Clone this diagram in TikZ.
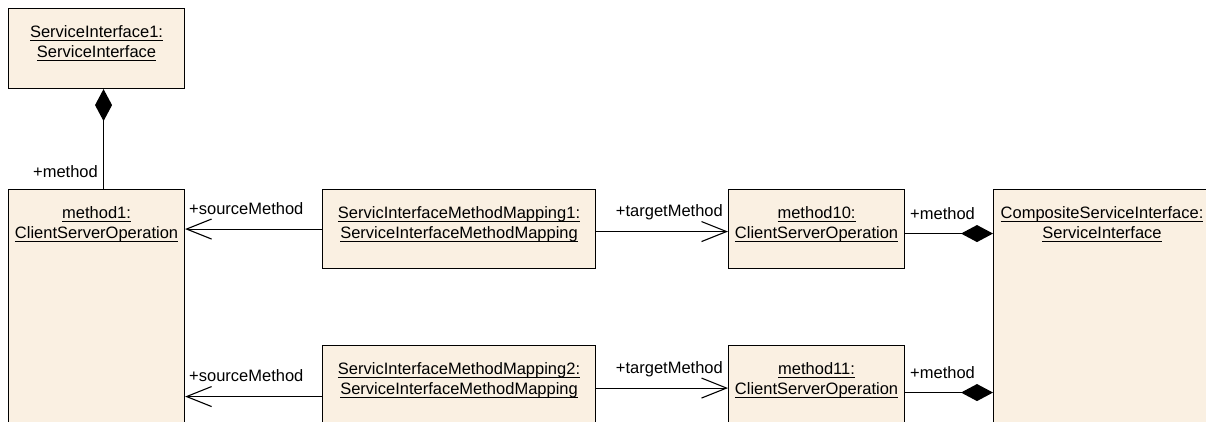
\documentclass[tikz,border=0pt]{standalone}
\usepackage{fontspec}
\setmainfont{Liberation Sans}
\usetikzlibrary{arrows.meta,calc}
\definecolor{boxfill}{RGB}{250,240,226}
\newcommand{\ulx}[1]{\leavevmode\setbox0\hbox{#1}\dp0=0pt\vtop{\box0\kern3pt\hrule height 0.9pt}}
\begin{document}
\begin{tikzpicture}[x=1pt,y=-1pt,
  box/.style={draw=black, fill=boxfill, line width=1.1pt, anchor=north west, inner sep=0pt},
  txt/.style={font=\fontsize{16.5}{20}\selectfont, inner sep=0pt, anchor=base},
  lbl/.style={font=\fontsize{16.5}{20}\selectfont, inner sep=0pt},
  conn/.style={line width=1.1pt},
  comp/.style={conn, {Diamond[length=32pt,width=17pt]}-},
  nav/.style={conn, -{Straight Barb[length=25pt,width=20pt]}}]
\useasboundingbox (0,0) rectangle (1206,421);
\clip (0,0) rectangle (1206,421);
% boxes
\node[box, minimum width=176pt, minimum height=80pt] (si1) at (8,8) {};
\node[box, minimum width=176pt, minimum height=241pt] (m1) at (8,189) {};
\node[box, minimum width=273pt, minimum height=79pt] (map1) at (322,189) {};
\node[box, minimum width=273pt, minimum height=85pt] (map2) at (322,345) {};
\node[box, minimum width=176pt, minimum height=79pt] (m10) at (728,189) {};
\node[box, minimum width=176pt, minimum height=85pt] (m11) at (728,345) {};
\node[box, minimum width=217pt, minimum height=241pt] (csi) at (993,189) {};
% box texts
\node[txt] (si1a) at ($(si1.north)+(0,29)$) {\ulx{ServiceInterface1:}};
\node[txt] (si1b) at ($(si1.north)+(0,49)$) {\ulx{ServiceInterface}};
\node[txt] (m1a) at ($(m1.north)+(0,29)$) {\ulx{method1:}};
\node[txt] (m1b) at ($(m1.north)+(0,49)$) {\ulx{ClientServerOperation}};
\node[txt] (map1a) at ($(map1.north)+(0,29)$) {\ulx{ServicInterfaceMethodMapping1:}};
\node[txt] (map1b) at ($(map1.north)+(0,49)$) {\ulx{ServiceInterfaceMethodMapping}};
\node[txt] (map2a) at ($(map2.north)+(0,29)$) {\ulx{ServicInterfaceMethodMapping2:}};
\node[txt] (map2b) at ($(map2.north)+(0,49)$) {\ulx{ServiceInterfaceMethodMapping}};
\node[txt] (m10a) at ($(m10.north)+(0,29)$) {\ulx{method10:}};
\node[txt] (m10b) at ($(m10.north)+(0,49)$) {\ulx{ClientServerOperation}};
\node[txt] (m11a) at ($(m11.north)+(0,29)$) {\ulx{method11:}};
\node[txt] (m11b) at ($(m11.north)+(0,49)$) {\ulx{ClientServerOperation}};
\node[txt] (csia) at ($(csi.north)+(0,29)$) {\ulx{CompositeServiceInterface:}};
\node[txt] (csib) at ($(csi.north)+(0,49)$) {\ulx{ServiceInterface}};
% connectors
\draw[comp] ([xshift=7pt]si1.south) -- ([xshift=7pt]m1.north);
\draw[nav] (map1.west) -- (map1.west -| m1.east);
\draw[nav] ([yshift=-8.5pt]map2.west) -- ([yshift=-8.5pt]map2.west -| m1.east);
\draw[nav] ([yshift=-2.5pt]map1.east) -- ([yshift=-2.5pt]map1.east -| m10.west);
\draw[nav] (map2.east) -- (map2.east -| m11.west);
\draw[comp] ([yshift=-4.5pt]m10.east -| csi.west) -- ([yshift=-4.5pt]m10.east);
\draw[comp] ([yshift=-4.5pt]m11.east -| csi.west) -- ([yshift=-4.5pt]m11.east);
% role labels
\node[lbl, anchor=base east] (lm0) at (98,177) {+method};
\node[lbl, anchor=base west] (ls1) at (189,214) {+sourceMethod};
\node[lbl, anchor=base west] (ls2) at (189,381) {+sourceMethod};
\node[lbl, anchor=base east] (lt1) at (723,216) {+targetMethod};
\node[lbl, anchor=base east] (lt2) at (723,373) {+targetMethod};
\node[lbl, anchor=base west] (lm1) at (910,219) {+method};
\node[lbl, anchor=base west] (lm2) at (910,378) {+method};
\end{tikzpicture}
\end{document}
